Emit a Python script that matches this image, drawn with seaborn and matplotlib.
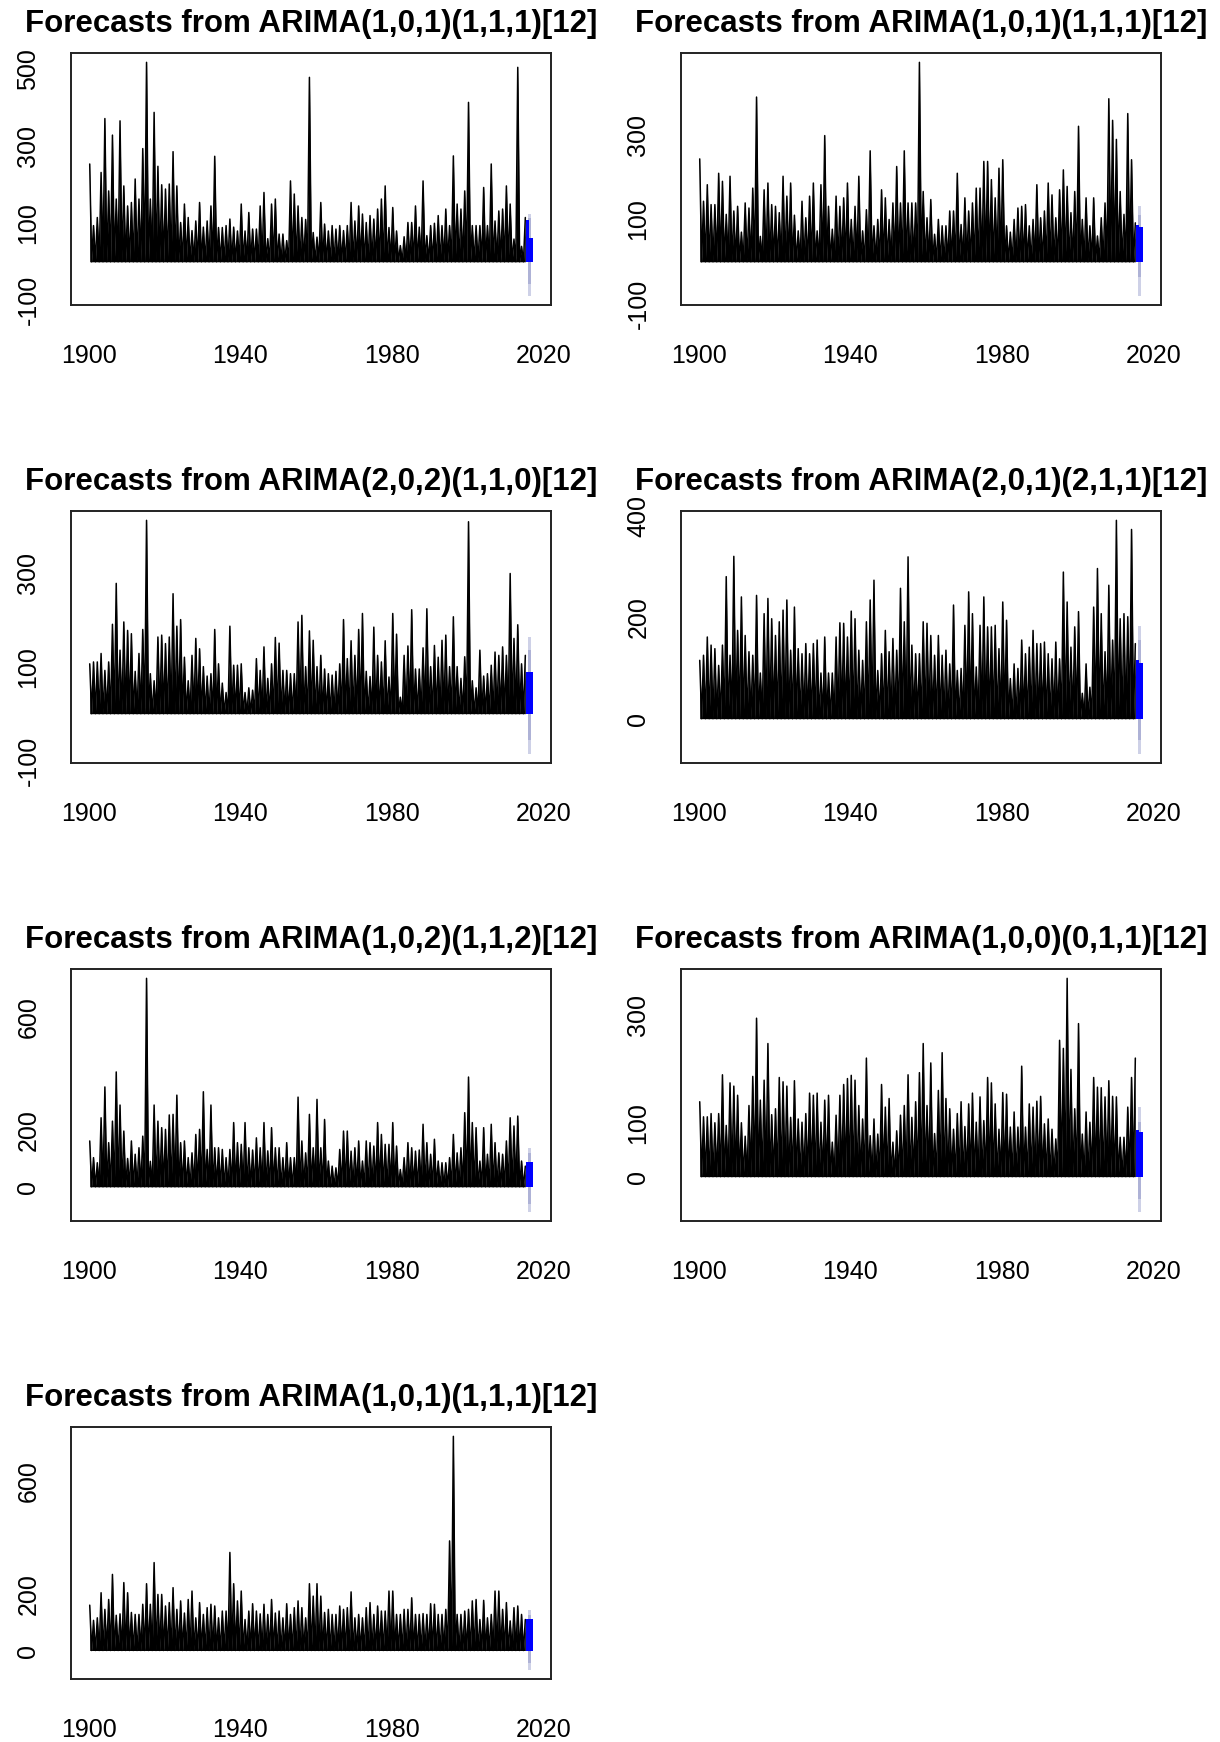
import numpy as np
import pandas as pd
import seaborn as sns
import matplotlib
matplotlib.use("Agg")
import matplotlib.pyplot as plt

# yearly peak of the monthly series, 1900..2015, one list per panel
years = list(range(1900, 2016))
baseline = 0

peaks_1 = [254, 94, 115, 232, 372, 184, 329, 163, 366, 197,
           145, 154, 215, 163, 294, 518, 163, 388, 248, 200,
           189, 202, 286, 197, 102, 150, 115, 81, 106, 154,
           90, 106, 145, 274, 89, 89, 94, 111, 90, 80,
           150, 80, 128, 85, 85, 145, 180, 60, 150, 163,
           72, 72, 55, 210, 176, 145, 115, 110, 479, 76,
           64, 154, 98, 80, 94, 85, 94, 81, 94, 154,
           106, 145, 124, 102, 120, 111, 137, 163, 197, 89,
           141, 80, 42, 65, 102, 102, 145, 90, 210, 68,
           94, 100, 120, 94, 137, 94, 275, 150, 137, 184,
           414, 94, 94, 94, 193, 94, 254, 106, 132, 137,
           197, 150, 59, 505, 40, 115]

peaks_2 = [243, 143, 182, 135, 135, 209, 190, 112, 202, 120,
           131, 70, 139, 127, 174, 389, 60, 170, 186, 135,
           131, 116, 202, 155, 186, 110, 73, 143, 104, 155,
           186, 73, 182, 298, 131, 77, 155, 131, 151, 186,
           100, 131, 202, 73, 123, 262, 85, 100, 170, 151,
           100, 139, 225, 139, 262, 139, 139, 139, 471, 166,
           104, 147, 65, 100, 85, 85, 120, 120, 209, 88,
           151, 120, 139, 174, 174, 237, 237, 194, 151, 221,
           241, 85, 70, 100, 127, 131, 135, 85, 100, 182,
           104, 120, 186, 158, 104, 170, 217, 178, 116, 166,
           320, 100, 151, 85, 151, 61, 104, 139, 385, 334,
           289, 166, 112, 350, 241, 92]

peaks_3 = [106, 110, 110, 128, 92, 110, 190, 277, 135, 195,
           177, 170, 90, 128, 179, 411, 85, 70, 163, 167,
           149, 163, 255, 186, 200, 120, 70, 124, 160, 138,
           100, 80, 85, 179, 106, 65, 45, 186, 103, 103,
           106, 45, 55, 50, 117, 92, 142, 75, 106, 162,
           150, 92, 92, 85, 85, 195, 209, 100, 176, 156,
           100, 124, 95, 85, 82, 90, 106, 200, 117, 155,
           124, 179, 213, 90, 79, 184, 124, 110, 155, 78,
           213, 169, 35, 124, 144, 221, 95, 95, 140, 223,
           100, 145, 120, 156, 167, 100, 206, 100, 75, 121,
           408, 70, 55, 135, 80, 85, 103, 131, 124, 142,
           124, 298, 160, 189, 106, 124]

peaks_4 = [115, 125, 161, 145, 138, 105, 145, 280, 125, 320,
           174, 240, 164, 132, 125, 243, 90, 207, 237, 197,
           164, 191, 214, 234, 135, 220, 138, 128, 148, 128,
           148, 155, 90, 161, 90, 90, 161, 189, 188, 161,
           212, 197, 135, 115, 191, 234, 273, 95, 128, 174,
           132, 158, 135, 257, 191, 319, 145, 128, 128, 191,
           188, 164, 125, 164, 125, 135, 108, 224, 95, 99,
           184, 250, 207, 102, 184, 240, 181, 181, 184, 138,
           230, 194, 79, 108, 99, 155, 128, 141, 174, 148,
           148, 151, 128, 118, 151, 118, 289, 230, 141, 181,
           211, 50, 108, 62, 220, 296, 207, 132, 263, 155,
           391, 197, 207, 201, 373, 148]

peaks_5 = [162, 103, 85, 244, 353, 156, 232, 406, 289, 197,
           100, 162, 115, 138, 179, 737, 90, 289, 232, 209,
           203, 254, 256, 324, 156, 162, 103, 120, 185, 203,
           336, 132, 289, 138, 138, 132, 103, 132, 227, 156,
           150, 227, 138, 130, 173, 138, 227, 127, 209, 138,
           138, 103, 156, 103, 103, 317, 162, 120, 256, 138,
           309, 138, 238, 91, 73, 67, 132, 197, 197, 126,
           138, 162, 91, 162, 156, 144, 227, 185, 150, 150,
           227, 144, 61, 103, 156, 138, 126, 130, 221, 156,
           115, 168, 91, 85, 85, 103, 185, 120, 138, 262,
           388, 227, 209, 91, 209, 115, 221, 156, 120, 115,
           162, 244, 215, 250, 91, 73]

peaks_6 = [139, 111, 111, 117, 100, 117, 189, 95, 174, 168,
           151, 100, 75, 132, 186, 294, 142, 179, 247, 115,
           126, 184, 176, 168, 110, 178, 107, 101, 117, 155,
           151, 155, 101, 142, 151, 64, 114, 151, 171, 182,
           188, 179, 132, 107, 220, 76, 107, 79, 171, 129,
           145, 64, 85, 114, 132, 189, 110, 139, 193, 247,
           132, 211, 80, 160, 230, 145, 126, 88, 117, 139,
           93, 135, 155, 101, 148, 104, 184, 174, 135, 88,
           156, 153, 92, 120, 92, 205, 92, 135, 129, 140,
           149, 98, 107, 88, 70, 253, 238, 368, 199, 126,
           284, 79, 120, 101, 184, 166, 165, 148, 178, 149,
           148, 73, 73, 129, 184, 220]

peaks_7 = [161, 107, 116, 205, 146, 181, 270, 125, 130, 241,
           205, 135, 128, 128, 164, 237, 164, 312, 199, 199,
           158, 170, 223, 146, 176, 133, 181, 211, 116, 170,
           128, 152, 164, 158, 116, 140, 140, 348, 237, 176,
           211, 110, 140, 166, 140, 130, 164, 128, 181, 133,
           140, 116, 166, 128, 152, 176, 152, 116, 237, 193,
           237, 193, 135, 146, 128, 128, 158, 146, 152, 208,
           116, 128, 116, 152, 170, 128, 158, 140, 140, 211,
           211, 128, 128, 146, 146, 187, 128, 128, 131, 128,
           166, 164, 128, 128, 146, 389, 760, 128, 128, 140,
           146, 176, 181, 110, 178, 116, 128, 211, 211, 146,
           170, 105, 152, 158, 128, 110]

# forecast: two forecast years after the end of the data
fc_start = 2015 + 4 / 12
fc_years = [0, 1]
fc_peaks = [[108, 61], [88, 82], [89, 89], [115, 109], [87, 87], [86, 83], [113, 113]]
lo95 = [-88, -80, -85, -69, -88, -65, -68]
hi95 = [125, 131, 163, 182, 138, 129, 142]
lo80 = [-57, -37, -57, -43, -60, -42, -45]
hi80 = [115, 110, 135, 155, 118, 101, 125]

titles = ["Forecasts from ARIMA(1,0,1)(1,1,1)[12]",
          "Forecasts from ARIMA(1,0,1)(1,1,1)[12]",
          "Forecasts from ARIMA(2,0,2)(1,1,0)[12]",
          "Forecasts from ARIMA(2,0,1)(2,1,1)[12]",
          "Forecasts from ARIMA(1,0,2)(1,1,2)[12]",
          "Forecasts from ARIMA(1,0,0)(0,1,1)[12]",
          "Forecasts from ARIMA(1,0,1)(1,1,1)[12]"]

y_ticks = [[-100, 0, 100, 200, 300, 400, 500],
           [-100, 0, 100, 200, 300, 400],
           [-100, 0, 100, 200, 300, 400],
           [0, 100, 200, 300, 400],
           [0, 200, 400, 600],
           [0, 100, 200, 300],
           [0, 200, 400, 600]]
y_labels = [[-100, 100, 300, 500],
            [-100, 100, 300],
            [-100, 100, 300],
            [0, 200, 400],
            [0, 200, 600],
            [0, 100, 300],
            [0, 200, 600]]

x_ticks = [1900, 1920, 1940, 1960, 1980, 2000, 2020]
x_labels = [1900, 1940, 1980, 2020]


def draw_panel(ax, i, peaks):
    t, v = [], []
    for y, p in zip(years, peaks):
        t += [y + 0.25, y + 0.75]
        v += [p, baseline]
    t, v = t[:-1], v[:-1]
    df = pd.DataFrame({"time": t, "value": v})
    # dense monthly look: filled spikes plus the outline
    ax.fill_between(df["time"], baseline, df["value"], color="black", linewidth=0)
    sns.lineplot(data=df, x="time", y="value", ax=ax, color="black",
                 linewidth=1.1, estimator=None, sort=False)

    mid = fc_start + len(fc_years) / 2
    ax.bar([mid], [hi95[i] - lo95[i]], bottom=[lo95[i]], width=0.9,
           color="#CED1E7", linewidth=0, zorder=3)
    ax.bar([mid], [hi80[i] - lo80[i]], bottom=[lo80[i]], width=0.6,
           color="#AEB2D6", linewidth=0, zorder=3)
    fx = [fc_start + k + 0.5 for k in fc_years]
    ax.bar(fx, fc_peaks[i], bottom=baseline, width=1.0, color="#0000FF",
           linewidth=0, zorder=4)

    # R style 4% padding of the data range
    lo = min(lo95[i], baseline)
    hi = max(max(peaks), hi95[i])
    pad = (hi - lo) * 0.04
    ax.set_ylim(lo - pad, hi + pad)
    x0, x1 = years[0], fc_start + len(fc_years)
    xpad = (x1 - x0) * 0.04
    ax.set_xlim(x0 - xpad, x1 + xpad)

    ax.set_xticks(x_ticks)
    ax.set_xticklabels([str(x) if x in x_labels else "" for x in x_ticks])
    ax.set_yticks(y_ticks[i])
    ax.set_yticklabels([str(y) if y in y_labels[i] else "" for y in y_ticks[i]])
    for lab in ax.get_yticklabels():
        lab.set_rotation(90)
        lab.set_va("center")

    ax.tick_params(axis="both", direction="out", length=12, width=1.4,
                   color="#222222", labelsize=18, labelcolor="black")
    ax.tick_params(axis="x", pad=16)
    ax.tick_params(axis="y", pad=10)
    ax.set_xlabel("")
    ax.set_ylabel("")
    for sp in ax.spines.values():
        sp.set_visible(True)
        sp.set_color("#222222")
        sp.set_linewidth(1.4)
    ax.set_title(titles[i], fontsize=22.5, fontweight="bold", color="black", pad=15)


def main():
    sns.set_style("white")
    plt.rcParams["font.family"] = ["Liberation Sans", "DejaVu Sans"]

    all_peaks = [peaks_1, peaks_2, peaks_3, peaks_4, peaks_5, peaks_6, peaks_7]

    fig = plt.figure(figsize=(12.2, 17.42), dpi=100)
    fig.patch.set_facecolor("white")
    W, H = 1220, 1742
    lefts = [71, 681]
    tops = [53, 511, 969, 1427]
    w, h = 480, 252
    for i, peaks in enumerate(all_peaks):
        row, col = divmod(i, 2)
        ax = fig.add_axes([lefts[col] / W, 1 - (tops[row] + h) / H, w / W, h / H])
        draw_panel(ax, i, peaks)

    fig.savefig("out.png", dpi=100, facecolor="white")


if __name__ == "__main__":
    main()
